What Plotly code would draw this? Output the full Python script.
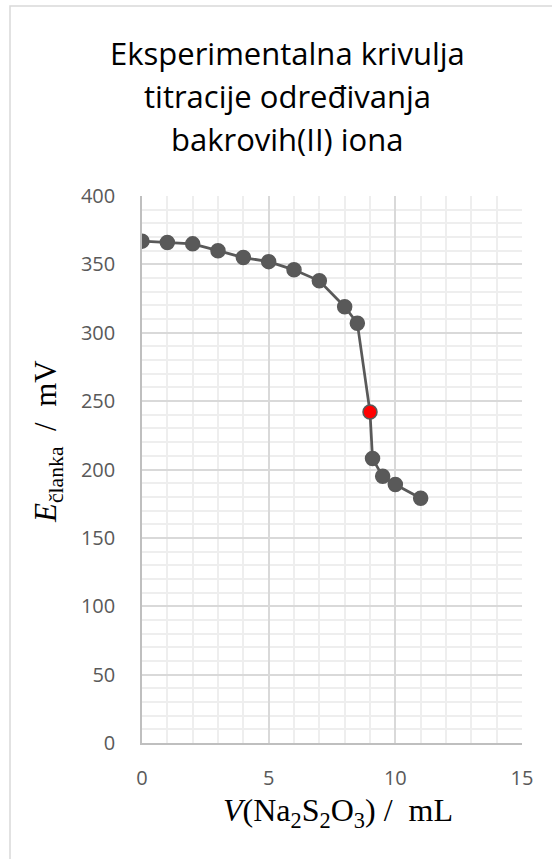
import plotly.graph_objects as go

# titration data
volume_ml = [0, 1, 2, 3, 4, 5, 6, 7, 8, 8.5, 9, 9.1, 9.5, 10, 11]
potential_mv = [367, 366, 365, 360, 355, 352, 346, 338, 319, 307, 242, 208, 195, 189, 179]
endpoint_index = 10  # the highlighted (red) point

title_lines = ["Eksperimentalna krivulja", "titracije određivanja", "bakrovih(II) iona"]
x_title = "<i>V</i>(Na<sub>2</sub>S<sub>2</sub>O<sub>3</sub>) /  mL"
y_title = "<i>E</i><sub>članka</sub>  /  mV"

W, H = 552, 859
L, R, T, B = 142, 30, 196, 116

grey = "#595959"
point_colors = [grey] * len(volume_ml)
point_colors[endpoint_index] = "#ff0000"

fig = go.Figure()
fig.add_trace(go.Scatter(
    x=volume_ml, y=potential_mv, mode="lines+markers",
    line=dict(color=grey, width=2.75),
    marker=dict(size=14, color=point_colors, line=dict(color=grey, width=1.5)),
    showlegend=False, hoverinfo="x+y",
))

pw = W - L - R
ph = H - T - B

def px_x(p):
    return (p - L) / pw

def px_y(p):
    return (H - B - p) / ph

fig.update_layout(
    width=W, height=H,
    margin=dict(l=L, r=R, t=T, b=B),
    paper_bgcolor="white", plot_bgcolor="white",
    font=dict(family="Open Sans, Liberation Sans, sans-serif", color=grey),
    xaxis=dict(range=[0, 15], dtick=5, tick0=0,
               showgrid=True, gridcolor="#d9d9d9", gridwidth=1.5,
               minor=dict(dtick=1, showgrid=True, gridcolor="#eeeeee", gridwidth=1.5),
               showline=True, linecolor="#bfbfbf", linewidth=1.5,
               zeroline=False, ticks="", tickfont=dict(size=20, color=grey),
               ticklabelstandoff=16),
    yaxis=dict(range=[0, 400], dtick=50, tick0=0,
               showgrid=True, gridcolor="#d9d9d9", gridwidth=1.5,
               minor=dict(dtick=10, showgrid=True, gridcolor="#eeeeee", gridwidth=1.5),
               showline=True, linecolor="#bfbfbf", linewidth=1.5,
               zeroline=False, ticks="", tickfont=dict(size=20, color=grey),
               ticklabelstandoff=21),
)

# title, one line per annotation to keep the original line spacing
for i, line in enumerate(title_lines):
    fig.add_annotation(text=line, xref="paper", yref="paper",
                       x=px_x(287), y=px_y(53 + 43 * i), xanchor="center", yanchor="middle",
                       showarrow=False,
                       font=dict(family="Open Sans, sans-serif", size=31, color="#000000"))

# axis titles in a serif face, placed like the original
fig.add_annotation(text=x_title, xref="paper", yref="paper",
                   x=px_x(338), y=px_y(812), xanchor="center", yanchor="middle",
                   showarrow=False,
                   font=dict(family="Liberation Serif, DejaVu Serif, serif", size=32, color="#000000"))
fig.add_annotation(text=y_title, xref="paper", yref="paper", textangle=-90,
                   x=px_x(48), y=px_y(442), xanchor="center", yanchor="middle",
                   showarrow=False,
                   font=dict(family="Liberation Serif, DejaVu Serif, serif", size=31, color="#000000"))

# chart area border (cropped at right and bottom in the original)
fig.add_shape(type="rect", xref="paper", yref="paper",
              x0=px_x(10), y0=px_y(H + 300), x1=px_x(W + 20), y1=px_y(6),
              line=dict(color="#d9d9d9", width=1.5), fillcolor="rgba(0,0,0,0)", layer="below")

fig.write_html("out.html", config={"displayModeBar": False},
               post_script="document.body.style.margin='0';")
